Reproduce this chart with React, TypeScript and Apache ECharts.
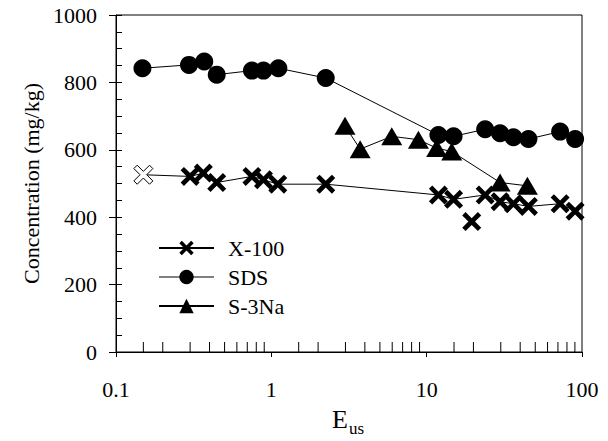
import React, { useEffect, useRef } from "react";
import * as echarts from "echarts";

const sdsX = [0.148, 0.295, 0.37, 0.445, 0.75, 0.89, 1.11, 2.24, 11.9, 14.9, 23.8, 29.7, 36.2, 45.2, 72.3, 90.3];
const sdsY = [842, 852, 862, 823, 835, 835, 842, 813, 644, 640, 661, 649, 637, 632, 654, 632];

const x100X = [0.15, 0.3, 0.365, 0.445, 0.75, 0.89, 1.1, 2.24, 11.9, 14.9, 23.8, 29.7, 36.2, 45.2, 72.3, 90.3];
const x100Y = [526, 521, 531, 503, 521, 511, 498, 498, 466, 453, 466, 446, 440, 432, 440, 418];

const x100OutlierX = [19.5];
const x100OutlierY = [387];

const s3naX = [2.98, 3.73, 5.96, 8.85, 11.6, 14.5, 29.7, 44.5];
const s3naY = [671, 602, 640, 630, 605, 595, 503, 493];

const minorTicksX = [
  0.15, 0.2, 0.3, 0.4, 0.5, 0.6, 0.7, 0.8, 0.9,
  1.5, 2, 3, 4, 5, 6, 7, 8, 9,
  15, 20, 30, 40, 50, 60, 70, 80, 90,
];

const seriesNames = ["X-100", "SDS", "S-3Na"];

const FONT = '"Liberation Serif", "Times New Roman", Times, serif';
const X_SYMBOL =
  "path://M0,2.8 L2.8,0 L8,5.2 L13.2,0 L16,2.8 L10.8,8 L16,13.2 L13.2,16 L8,10.8 L2.8,16 L0,13.2 L5.2,8 Z";

const zip = (xs: number[], ys: number[]) => xs.map((x, i) => [x, ys[i]]);

export default function App() {
  const ref = useRef<HTMLDivElement>(null);
  useEffect(() => {
    if (!ref.current) return;
    const chart = echarts.init(ref.current, null, { renderer: "svg" });
    const x100Data: any[] = zip(x100X, x100Y);
    x100Data[0] = {
      value: x100Data[0],
      itemStyle: { color: "#fff", borderColor: "#000", borderWidth: 1 },
    };
    const option: any = {
      animation: false,
      backgroundColor: "#fff",
      grid: {
        left: 116,
        right: 26,
        top: 15,
        bottom: 89,
        show: true,
        borderColor: "#000",
        borderWidth: 1,
        backgroundColor: "transparent",
      },
      legend: {
        data: [
          { name: seriesNames[0] },
          { name: seriesNames[1], lineStyle: { color: "#808080" } },
          { name: seriesNames[2] },
        ],
        orient: "vertical",
        left: 158,
        top: 237,
        padding: 0,
        itemWidth: 55,
        itemHeight: 18,
        itemGap: 7,
        textStyle: {
          fontFamily: FONT,
          fontSize: 22,
          color: "#000",
          lineHeight: 22,
          padding: [0, 0, 0, 9],
        },
      },
      xAxis: [
        {
          type: "log",
          logBase: 10,
          min: 0.1,
          max: 100,
          axisLine: { show: true, lineStyle: { color: "#000", width: 1 } },
          axisTick: { show: true, inside: false, length: 5, lineStyle: { color: "#000" } },
          minorTick: { show: false },
          splitLine: { show: false },
          axisLabel: {
            fontFamily: FONT,
            fontSize: 22,
            color: "#000",
            margin: 26,
            formatter: (v: number) => String(v),
          },
        },
      ],
      yAxis: [
        {
          type: "value",
          min: 0,
          max: 1000,
          interval: 200,
          axisLine: { show: true, lineStyle: { color: "#000", width: 1 } },
          axisTick: { show: true, inside: true, length: 6, lineStyle: { color: "#000" } },
          minorTick: { show: true, splitNumber: 4, length: 6, lineStyle: { color: "#000" } },
          splitLine: { show: false },
          axisLabel: {
            fontFamily: FONT,
            fontSize: 22,
            color: "#000",
            margin: 19,
            formatter: (v: number) => String(v),
          },
          name: "Concentration (mg/kg)",
          nameLocation: "middle",
          nameGap: 74,
          nameTextStyle: { fontFamily: FONT, fontSize: 22, color: "#000" },
        },
        {
          type: "value",
          min: 0,
          max: 1000,
          interval: 200,
          position: "left",
          axisLine: { show: false },
          axisTick: { show: true, inside: false, length: 7, lineStyle: { color: "#000" } },
          axisLabel: { show: false },
          splitLine: { show: false },
        },
      ],
      graphic: [
        {
          type: "text",
          left: 332,
          top: 406,
          style: { text: "E", font: `26px ${FONT}`, fill: "#000" },
        },
        {
          type: "text",
          left: 349,
          top: 420,
          style: { text: "us", font: `17px ${FONT}`, fill: "#000" },
        },
      ],
      series: [
        {
          name: "X-100",
          type: "line",
          data: x100Data,
          symbol: X_SYMBOL,
          symbolSize: 19,
          showAllSymbol: true,
          itemStyle: { color: "#000" },
          lineStyle: { color: "#000", width: 1 },
          z: 3,
        },
        {
          name: "X-100 outlier",
          type: "scatter",
          data: zip(x100OutlierX, x100OutlierY),
          symbol: X_SYMBOL,
          symbolSize: 19,
          itemStyle: { color: "#000", opacity: 1 },
          z: 3,
        },
        {
          name: "SDS",
          type: "line",
          data: zip(sdsX, sdsY),
          symbol: "circle",
          symbolSize: 18,
          showAllSymbol: true,
          itemStyle: { color: "#000" },
          lineStyle: { color: "#000", width: 1 },
          z: 3,
        },
        {
          name: "S-3Na",
          type: "line",
          data: zip(s3naX, s3naY),
          symbol: "triangle",
          symbolSize: [21, 18],
          showAllSymbol: true,
          itemStyle: { color: "#000" },
          lineStyle: { color: "#000", width: 1 },
          z: 3,
        },
        {
          name: "minor ticks",
          type: "scatter",
          data: minorTicksX.map((v) => [v, 0]),
          symbol: "rect",
          symbolSize: [1, 10],
          symbolOffset: [0, -5],
          itemStyle: { color: "#000", opacity: 1 },
          silent: true,
          clip: false,
          z: 1,
        },
      ],
    };
    chart.setOption(option);
    return () => chart.dispose();
  }, []);
  return (
    <div
      ref={ref}
      style={{ position: "fixed", left: 0, top: 0, width: 608, height: 441 }}
    />
  );
}
